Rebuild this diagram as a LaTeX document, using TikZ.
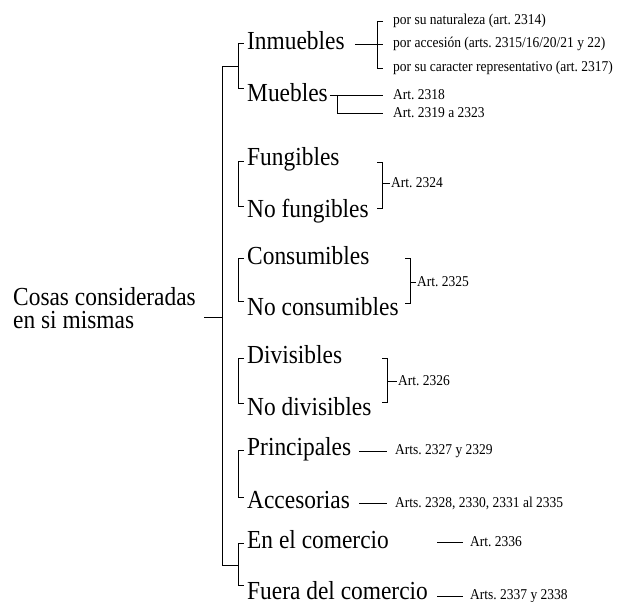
\documentclass[tikz,border=0pt]{standalone}
\usepackage{fontspec}
\setmainfont[FakeStretch=0.9]{Liberation Serif}
\usetikzlibrary{positioning, calc}
\newcommand{\clasesz}{\fontsize{26}{23}\selectfont}
\newcommand{\artsz}{\fontsize{15}{15}\selectfont}
\frenchspacing

\begin{document}
\begin{tikzpicture}[x=1pt, y=-1pt,
  root/.style={font=\clasesz, align=left, anchor=base west, inner ysep=0pt, inner xsep=8pt},
  clase/.style={font=\clasesz, anchor=base west, inner sep=0pt},
  art/.style={font=\artsz, anchor=west, inner sep=0pt},
  lin/.style={line width=0.8pt},
]
  \useasboundingbox (0,0) rectangle (625,602);

  % Root
  \node[root] (root) at (5,328.5) {Cosas consideradas\\en si mismas};

  % Classes
  \node[clase] (inm) at (247,50) {Inmuebles};
  \node[clase] (mue) at (247,102) {Muebles};
  \node[clase] (fun) at (247,166) {Fungibles};
  \node[clase] (nofun) at (247,218) {No fungibles};
  \node[clase] (con) at (247,265) {Consumibles};
  \node[clase] (nocon) at (247,315) {No consumibles};
  \node[clase] (div) at (247,363) {Divisibles};
  \node[clase] (nodiv) at (247,415) {No divisibles};
  \node[clase] (pri) at (247,455) {Principales};
  \node[clase] (acc) at (247,508) {Accesorias};
  \node[clase] (encom) at (247,548) {En el comercio};
  \node[clase] (fuera) at (247,599) {Fuera del comercio};

  % Articles
  \node[art] (nat) at (393,21) {por su naturaleza (art. 2314)};
  \node[art] (acce) at (393,44) {por accesión (arts. 2315/16/20/21 y 22)};
  \node[art] (rep) at (393,68) {por su caracter representativo (art. 2317)};
  \node[art] (a2318) at (393,95) {Art. 2318};
  \node[art] (a2319) at (393,113) {Art. 2319 a 2323};
  \node[art] (a2324) at (391,183) {Art. 2324};
  \node[art] (a2325) at (417,282) {Art. 2325};
  \node[art] (a2326) at (398,381) {Art. 2326};
  \node[art] (a2327) at (395,451) {Arts. 2327 y 2329};
  \node[art] (a2328) at (395,503) {Arts. 2328, 2330, 2331 al 2335};
  \node[art] (a2336) at (470,542) {Art. 2336};
  \node[art] (a2337) at (470,596) {Arts. 2337 y 2338};

  % Trunk
  \coordinate (j1) at (238.5,66);
  \coordinate (j6) at (238.5,565);
  \coordinate (tj) at (222,317);
  \draw[lin] (j1) -- ++(-16.5,0) |- (j6);
  \draw[lin] (tj) -- (root.east |- tj);

  % Left brackets
  \draw[lin] ([xshift=-3.5pt,yshift=7pt]inm.base west) -- ++(-5,0) |- ([xshift=-3.5pt,yshift=14pt]mue.base west);
  \draw[lin] ([xshift=-3.5pt,yshift=5pt]fun.base west) -- ++(-5,0) |- ([xshift=-3.5pt,yshift=12pt]nofun.base west);
  \draw[lin] ([xshift=-3.5pt,yshift=7pt]con.base west) -- ++(-5,0) |- ([xshift=-3.5pt,yshift=14pt]nocon.base west);
  \draw[lin] ([xshift=-3.5pt,yshift=5pt]div.base west) -- ++(-5,0) |- ([xshift=-3.5pt,yshift=12pt]nodiv.base west);
  \draw[lin] ([xshift=-3.5pt,yshift=5pt]pri.base west) -- ++(-5,0) |- ([xshift=-3.5pt,yshift=11pt]acc.base west);
  \draw[lin] ([xshift=-3.5pt,yshift=5pt]encom.base west) -- ++(-5,0) |- ([xshift=-3.5pt,yshift=14pt]fuera.base west);

  % Inmuebles
  \draw[lin] ([xshift=10pt]inm.east |- acce.west) -- ([xshift=-10pt]acce.west);
  \draw[lin] ([xshift=-10pt]nat.west) -- ++(-6,0) |- ([xshift=-10pt]rep.west);

  % Muebles
  \draw[lin] ([xshift=2pt]mue.east |- a2318.west) -- ([xshift=-10pt]a2318.west);
  \draw[lin] ([xshift=9pt]mue.east |- a2318.west) |- ([xshift=-10pt]a2319.west);

  % Right brackets
  \draw[lin] ([xshift=-14pt,yshift=21pt]a2324.west) -- ++(5,0) |- ([xshift=-14pt,yshift=-25pt]a2324.west);
  \draw[lin] ([xshift=-9pt]a2324.west) -- ([xshift=-1.5pt]a2324.west);
  \draw[lin] ([xshift=-12pt,yshift=24pt]a2325.west) -- ++(5,0) |- ([xshift=-12pt,yshift=-21pt]a2325.west);
  \draw[lin] ([xshift=-7pt]a2325.west) -- ([xshift=-1pt]a2325.west);
  \draw[lin] ([xshift=-16pt,yshift=23pt]a2326.west) -- ++(5,0) |- ([xshift=-16pt,yshift=-21pt]a2326.west);
  \draw[lin] ([xshift=-11pt]a2326.west) -- ([xshift=-1.5pt]a2326.west);

  % Single lines
  \draw[lin] ([xshift=8pt]pri.east |- a2327.west) -- ([xshift=-8pt]a2327.west);
  \draw[lin] ([xshift=9pt]acc.east |- a2328.west) -- ([xshift=-8pt]a2328.west);
  \draw[lin] ([xshift=48pt]encom.east |- a2336.west) -- ([xshift=-7pt]a2336.west);
  \draw[lin] ([xshift=9pt]fuera.east |- a2337.west) -- ([xshift=-7pt]a2337.west);

\end{tikzpicture}
\end{document}
